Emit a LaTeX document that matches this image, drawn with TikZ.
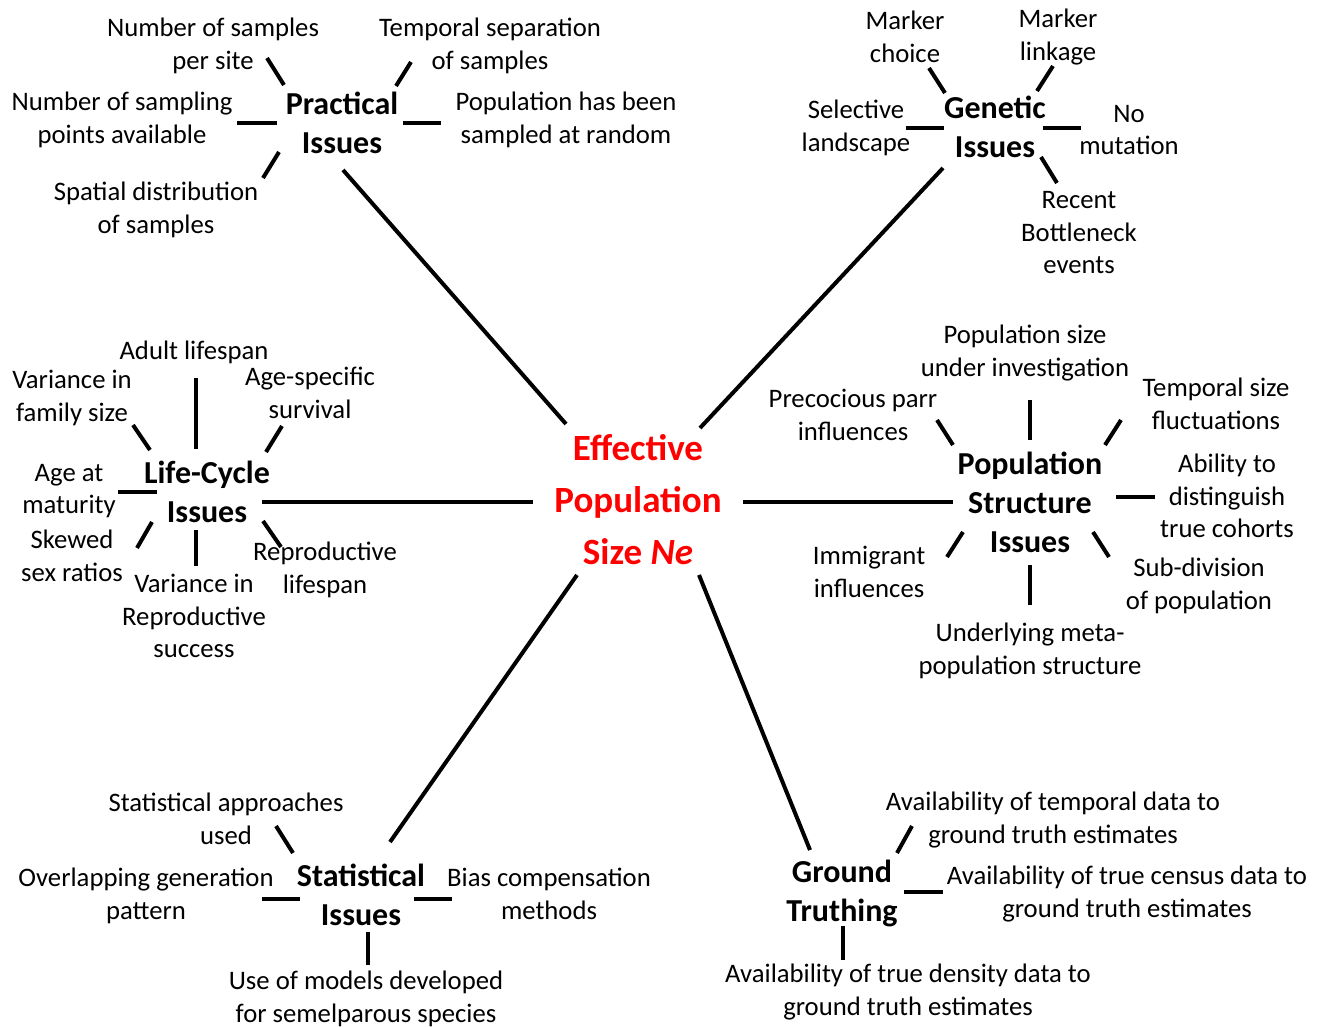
\documentclass[tikz,border=0pt]{standalone}
\usepackage{fontspec}
\setmainfont{Carlito}
\begin{document}
\begin{tikzpicture}[x=1pt,y=-1pt,
  lbl/.style={align=center,inner sep=0pt,font=\fontsize{26.7}{32.5}\selectfont},
  head/.style={align=center,inner sep=0pt,font=\fontsize{32}{39}\selectfont\bfseries},
  ctr/.style={align=center,inner sep=0pt,text=red,font=\fontsize{37}{52}\selectfont\bfseries},
  wire/.style={line width=4pt}]
\useasboundingbox (0,0) rectangle (1325,1027);
% centre
\node[ctr] (ne) at (638,500) {Effective\\Population\\Size \textit{Ne}};
% Practical
\node[head] (prac) at (342,123) {Practical\\Issues};
\node[lbl] (p1) at (213,46) {Number of samples\\per site};
\node[lbl] (p2) at (490,46) {Temporal separation\\of samples};
\node[lbl] (p3) at (122,120) {Number of sampling\\points available};
\node[lbl] (p4) at (566,120) {Population has been\\sampled at random};
\node[lbl] (p5) at (156,210) {Spatial distribution\\of samples};
\draw[wire] (267,58) -- (284,85);
\draw[wire] (411,62) -- (396,86);
\draw[wire] (237,123) -- (277,123);
\draw[wire] (403,123) -- (441,123);
\draw[wire] (279,152) -- (263,178);
\draw[wire] (343,170) -- (566,424);
% Genetic
\node[head] (gen) at (995,127) {Genetic\\Issues};
\node[lbl] (g1) at (905,37) {Marker\\choice};
\node[lbl] (g2) at (1058,37) {Marker\\linkage};
\node[lbl] (g3) at (856,128) {Selective\\landscape};
\node[lbl] (g4) at (1129,130) {No\\mutation};
\node[lbl] (g5) at (1079,233) {Recent\\Bottleneck\\events};
\draw[wire] (929,68) -- (945,93);
\draw[wire] (1053,66) -- (1037,91);
\draw[wire] (906,128) -- (944,128);
\draw[wire] (1043,128) -- (1081,128);
\draw[wire] (1041,157) -- (1057,183);
\draw[wire] (943,168) -- (700,428);
% Life-cycle
\node[head] (life) at (207,492) {Life-Cycle\\Issues};
\node[lbl] (l1) at (194,352) {Adult lifespan};
\node[lbl] (l2) at (72,398) {Variance in\\family size};
\node[lbl] (l3) at (310,393) {Age-specific\\survival};
\node[lbl] (l4) at (69,491) {Age at\\maturity};
\node[lbl] (l5) at (72,556) {Skewed\\sex ratios};
\node[lbl] (l6) at (194,616) {Variance in\\Reproductive\\success};
\node[lbl] (l7) at (325,570) {Reproductive\\lifespan};
\draw[wire] (196,378) -- (196,449);
\draw[wire] (133,425) -- (150,450);
\draw[wire] (282,426) -- (266,452);
\draw[wire] (118,492) -- (157,492);
\draw[wire] (152,522) -- (137,548);
\draw[wire] (196,530) -- (196,566);
\draw[wire] (263,521) -- (281,547);
\draw[wire] (262,502) -- (533,502);
% Population structure
\node[head] (pop) at (1030,502) {Population\\Structure\\Issues};
\node[lbl] (s1) at (1025,353) {Population size\\under investigation};
\node[lbl] (s2) at (853,415) {Precocious parr\\influences};
\node[lbl] (s3) at (1216,404) {Temporal size\\fluctuations};
\node[lbl] (s4) at (1227,496) {Ability to\\distinguish\\true cohorts};
\node[lbl] (s5) at (869,572) {Immigrant\\influences};
\node[lbl] (s6) at (1199,586) {Sub-division\\of population};
\node[lbl] (s7) at (1030,651) {Underlying meta-\\population structure};
\draw[wire] (1030,400) -- (1030,440);
\draw[wire] (937,420) -- (953,445);
\draw[wire] (1121,420) -- (1105,445);
\draw[wire] (1116,497) -- (1155,497);
\draw[wire] (963,532) -- (947,557);
\draw[wire] (1093,532) -- (1109,557);
\draw[wire] (1030,565) -- (1030,605);
\draw[wire] (743,502) -- (953,502);
% Statistical
\node[head] (stat) at (361,895) {Statistical\\Issues};
\node[lbl] (t1) at (226,819) {Statistical approaches\\used};
\node[lbl] (t2) at (146,896) {Overlapping generation\\pattern};
\node[lbl] (t3) at (549,894) {Bias compensation\\methods};
\node[lbl] (t4) at (366,999) {Use of models developed\\for semelparous species};
\draw[wire] (276,826) -- (293,853);
\draw[wire] (262,899) -- (300,899);
\draw[wire] (414,899) -- (452,899);
\draw[wire] (368,932) -- (368,965);
\draw[wire] (390,842) -- (577,575);
% Ground truthing
\node[head] (gt) at (842,893) {Ground\\Truthing};
\node[lbl] (r1) at (1053,820) {Availability of temporal data to\\ground truth estimates};
\node[lbl] (r2) at (1127,894) {Availability of true census data to\\ground truth estimates};
\node[lbl] (r3) at (908,992) {Availability of true density data to\\ground truth estimates};
\draw[wire] (912,826) -- (897,853);
\draw[wire] (904,892) -- (943,892);
\draw[wire] (843,926) -- (843,960);
\draw[wire] (810,850) -- (699,575);
\end{tikzpicture}
\end{document}
